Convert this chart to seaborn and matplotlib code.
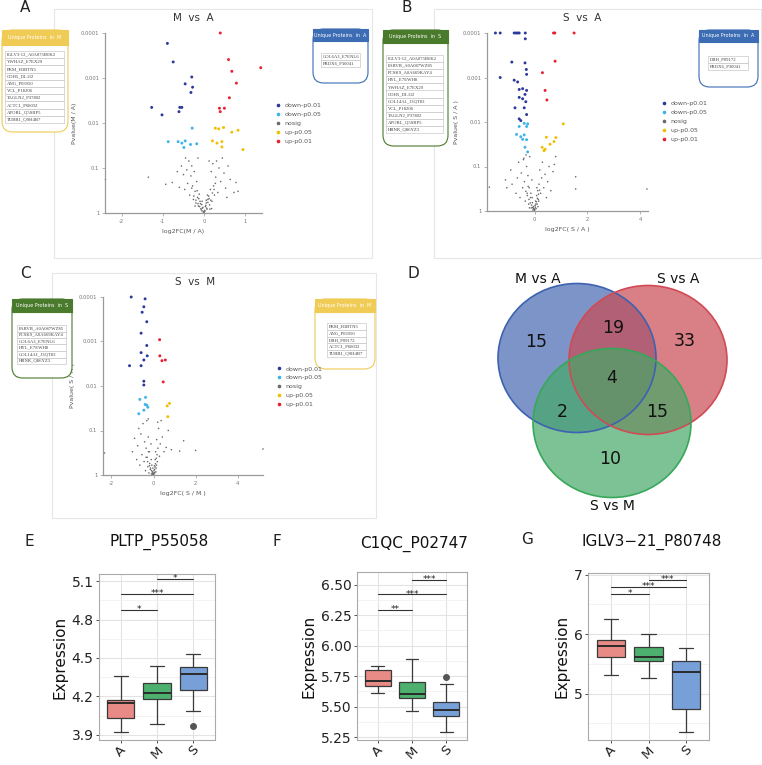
import numpy as np
import pandas as pd
import matplotlib
matplotlib.use('Agg')
import matplotlib.pyplot as plt
import seaborn as sns
from matplotlib.patches import Rectangle, FancyBboxPatch, Ellipse
from matplotlib.lines import Line2D
from matplotlib.ticker import FixedLocator, NullLocator, MultipleLocator

# ---- volcano data (log2FC, p-value) ----
a_sig_fc = [-0.89, -0.75, -0.30, -0.46, -0.28, -0.32, -1.27, -0.59, -0.54, -0.61, -1.02,
            -0.29, -0.87, -0.63, -0.54, -0.46, -0.49, -0.33, -0.18,
            0.39, 0.59, 0.67, 1.37, 0.78, 0.61, 0.37, 0.49, 0.39,
            0.27, 0.35, 0.47, 0.67, 0.82, 0.20, 0.31, 0.43, 0.43, 0.94]
a_sig_p = [1.7e-4, 4.4e-4, 9.5e-4, 1.35e-3, 1.6e-3, 2.1e-3, 4.5e-3, 4.5e-3, 4.5e-3, 5.6e-3, 6.6e-3,
           0.013, 0.026, 0.026, 0.028, 0.025, 0.035, 0.030, 0.029,
           1.0e-4, 3.9e-4, 7.1e-4, 5.9e-4, 1.3e-3, 2.75e-3, 4.7e-3, 4.7e-3, 5.6e-3,
           0.013, 0.0135, 0.0126, 0.016, 0.0145, 0.025, 0.028, 0.026, 0.034, 0.039]
a_ns_fc = [-2.39, -1.35, -0.93, -0.77, -0.55, -0.5, -0.47, -0.45, -0.42, -0.4, -0.37, -0.35, -0.32, -0.3,
           -0.28, -0.26, -0.24, -0.22, -0.2, -0.18, -0.16, -0.14, -0.12, -0.1, -0.08, -0.06, -0.05, -0.03,
           -0.02, 0.0, 0.01, 0.03, 0.05, 0.07, 0.09, 0.11, 0.13, 0.15, 0.17, 0.19, 0.21, 0.23, 0.25, 0.28,
           0.3, 0.33, 0.36, 0.4, 0.44, 0.48, 0.52, 0.58, 0.63, 0.72, 0.77, 0.82, -0.6, -0.65, 0.55, -0.15, 0.12,
           -0.25, -0.2, -0.15, -0.11, -0.07, -0.04, -0.01, 0.02, 0.04, 0.06, 0.09, 0.12, 0.16, 0.2, 0.24,
           -0.3, -0.22, -0.13, 0.14, 0.27, -0.09, 0.08, -0.17, 0.18, -0.05, 0.05]
a_ns_p = [0.18, 0.16, 0.23, 0.21, 0.09, 0.14, 0.3, 0.06, 0.11, 0.22, 0.07, 0.4, 0.15, 0.09,
          0.25, 0.5, 0.12, 0.33, 0.6, 0.2, 0.45, 0.7, 0.38, 0.55, 0.8, 0.65, 0.9, 0.75,
          0.95, 0.98, 0.88, 0.72, 0.6, 0.82, 0.5, 0.42, 0.66, 0.3, 0.12, 0.55, 0.08, 0.25, 0.4, 0.16,
          0.07, 0.35, 0.1, 0.2, 0.06, 0.13, 0.28, 0.09, 0.18, 0.35, 0.21, 0.33, 0.27, 0.12, 0.45, 0.06, 0.07,
          0.42, 0.52, 0.62, 0.72, 0.85, 0.78, 0.93, 0.9, 0.68, 0.78, 0.58, 0.48, 0.52, 0.36, 0.3,
          0.28, 0.7, 0.48, 0.82, 0.22, 0.62, 0.4, 0.32, 0.8, 0.55, 0.52]

b_sig_fc = [-1.48, -1.30, -0.77, -0.70, -0.64, -0.58, -0.35, -0.35, -0.86, -0.36, -0.31, -0.30, -1.30, -0.77,
            -0.64, -0.58, -0.45, -0.30, -0.36, -0.58, -0.45, -0.33, -0.74, -0.39, -0.30, -0.58, -0.52,
            -0.39, -0.26, -0.58, -0.30, -0.68, -0.52, -0.39, -0.30, -0.36, -0.26, -0.45,
            0.72, 0.77, 1.50, 0.78, 0.30, 0.40, 0.47,
            1.09, 0.45, 0.81, 0.74, 0.59, 0.29, 0.36, 0.40]
b_sig_p = [1e-4, 1e-4, 1e-4, 1e-4, 1e-4, 1e-4, 1e-4, 1.35e-4, 4.5e-4, 4.7e-4, 6.6e-4, 8.5e-4, 1.0e-3, 1.15e-3,
           1.26e-3, 1.86e-3, 1.78e-3, 1.95e-3, 2.4e-3, 2.8e-3, 3.0e-3, 3.5e-3, 4.8e-3, 4.8e-3, 6.8e-3, 8.5e-3, 9.3e-3,
           0.0107, 0.011, 0.0126, 0.0126, 0.019, 0.0214, 0.0195, 0.025, 0.037, 0.047, 0.0245,
           1e-4, 1e-4, 1e-4, 4.3e-4, 7.8e-4, 1.95e-3, 3.2e-3,
           0.011, 0.022, 0.0224, 0.0275, 0.0316, 0.037, 0.044, 0.041]
b_ns_fc = [1.56, 1.56, 4.26, -1.71, -1.1, -1.05, -0.85, -0.9, -0.7, -0.65, -0.6, -0.55, -0.5, -0.45, -0.42,
           -0.38, -0.35, -0.3, -0.28, -0.25, -0.22, -0.2, -0.18, -0.15, -0.12, -0.1, -0.08, -0.06, -0.04, -0.02,
           0.0, 0.02, 0.04, 0.06, 0.08, 0.1, 0.12, 0.14, 0.17, 0.2, 0.23, 0.27, 0.3, 0.35, 0.4, 0.45, 0.5, 0.55,
           0.62, 0.7, 0.75, 0.8, -0.4, -0.32,
           -0.27, -0.21, -0.16, -0.11, -0.07, -0.03, -0.01, 0.01, 0.03, 0.05, 0.07, 0.11, 0.15, 0.19,
           -0.33, -0.24, -0.14, 0.13, -0.09, 0.09, -0.19, 0.16]
b_ns_p = [0.17, 0.32, 0.32, 0.29, 0.2, 0.3, 0.25, 0.12, 0.4, 0.18, 0.08, 0.5, 0.14, 0.3, 0.07,
          0.22, 0.6, 0.1, 0.4, 0.16, 0.7, 0.3, 0.06, 0.5, 0.85, 0.2, 0.65, 0.95, 0.8, 0.9,
          0.98, 0.75, 0.6, 0.88, 0.45, 0.7, 0.35, 0.55, 0.25, 0.12, 0.4, 0.18, 0.08, 0.3, 0.15, 0.5, 0.22, 0.1,
          0.35, 0.13, 0.09, 0.06, 0.065, 0.055,
          0.45, 0.55, 0.66, 0.74, 0.84, 0.88, 0.94, 0.92, 0.82, 0.7, 0.62, 0.52, 0.42, 0.34,
          0.36, 0.28, 0.4, 0.8, 0.5, 0.3, 0.85, 0.6]

c_sig_fc = [-1.06, -0.40, -0.46, -0.54, -0.32, -0.59, -0.32, -0.59, -0.46, -1.14, -0.59, -0.30, -0.46, -0.46,
            -0.38, -0.65, -0.40, -0.32, -0.46, -0.70, -0.27,
            0.29, 0.30, 0.40, 0.56, 0.46,
            0.76, 0.65, 0.68]
c_sig_p = [1e-4, 1.1e-4, 1.66e-4, 2.2e-4, 3.6e-4, 6.5e-4, 1.23e-3, 1.78e-3, 2.6e-3, 3.5e-3, 3.5e-3, 2.1e-3, 7.8e-3, 9.5e-3,
           0.018, 0.02, 0.026, 0.027, 0.035, 0.042, 0.03,
           9.1e-4, 2.1e-3, 2.7e-3, 2.6e-3, 8.1e-3,
           0.0245, 0.028, 0.049]
c_ns_fc = [2.0, 5.2, 1.43, 1.24, -2.33, -1.0, -0.9, -0.8, -0.75, -0.7, -0.65, -0.6, -0.55, -0.5, -0.45,
           -0.42, -0.38, -0.35, -0.32, -0.3, -0.27, -0.25, -0.22, -0.2, -0.18, -0.15, -0.12, -0.1, -0.08, -0.05,
           -0.03, 0.0, 0.02, 0.04, 0.06, 0.08, 0.1, 0.12, 0.15, 0.18, 0.21, 0.24, 0.28, 0.32, 0.36, 0.42, 0.5,
           0.6, 0.7, 0.85, -0.25, 0.2,
           -0.28, -0.19, -0.14, -0.09, -0.06, -0.02, 0.01, 0.03, 0.05, 0.07, 0.09, 0.13, 0.17, -0.35, -0.24,
           0.11, -0.11, 0.14, -0.04, 0.0]
c_ns_p = [0.28, 0.26, 0.17, 0.29, 0.32, 0.3, 0.15, 0.45, 0.22, 0.09, 0.6, 0.12, 0.35, 0.07, 0.5,
          0.18, 0.8, 0.25, 0.06, 0.4, 0.65, 0.14, 0.9, 0.3, 0.55, 0.75, 0.2, 0.95, 0.6, 0.85,
          0.7, 0.98, 0.8, 0.62, 0.9, 0.45, 0.3, 0.7, 0.16, 0.5, 0.25, 0.09, 0.38, 0.2, 0.06, 0.14, 0.3,
          0.24, 0.1, 0.27, 0.055, 0.065,
          0.5, 0.62, 0.7, 0.8, 0.9, 0.93, 0.95, 0.88, 0.75, 0.66, 0.56, 0.42, 0.35, 0.4, 0.3,
          0.85, 0.45, 0.6, 0.98, 0.92]

# ---- unique protein lists ----
uniq_a_m = ['IGLV3-12_A0A075B6K2', 'YWHAZ_E7EX29', 'PKM_H3BTN5', 'CDH5_DL1I2', 'ANG_P03950',
            'VCL_P18206', 'TAGLN2_P37802', 'ACTC1_P68032', 'APOBL_Q5SRP5', 'TUBB1_Q9H4B7']
uniq_a_a = ['COL6A3_E7ENL6', 'PRDX6_P30041']
uniq_b_s = ['IGLV3-12_A0A075B6K2', 'PARVB_A0A087WZ85', 'PCSK9_A0A669KAY4', 'HYL_E7EWH8', 'YWHAZ_E7EX29',
            'CDH5_DL1I2', 'COL14A1_J3QT83', 'VCL_P18206', 'TAGLN2_P37802', 'APOBL_Q5SRP5', 'HRNR_Q86YZ3']
uniq_b_a = ['DBH_P09172', 'PRDX6_P30041']
uniq_c_s = ['PARVB_A0A087WZ85', 'PCSK9_A0A669KAY4', 'COL6A3_E7ENL6', 'HYL_E7EWH8', 'COL14A1_J3QT83', 'HRNR_Q86YZ3']
uniq_c_m = ['PKM_H3BTN5', 'ANG_P03950', 'DBH_P09172', 'ACTC1_P68032', 'TUBB1_Q9H4B7']

# ---- venn ----
venn_sets = ['M vs A', 'S vs A', 'S vs M']
venn_counts = [15, 19, 33, 4, 2, 15, 10]

# ---- boxplot samples ----
groups = ['A', 'M', 'S']
e_vals = {'A': [3.923, 3.98, 4.028, 4.09, 4.15, 4.16, 4.169, 4.25, 4.362],
          'M': [3.983, 4.12, 4.176, 4.2, 4.225, 4.27, 4.308, 4.38, 4.434],
          'S': [3.97, 4.09, 4.251, 4.3, 4.375, 4.41, 4.432, 4.48, 4.529]}
f_vals = {'A': [5.609, 5.64, 5.668, 5.69, 5.709, 5.75, 5.799, 5.82, 5.834],
          'M': [5.467, 5.53, 5.571, 5.59, 5.603, 5.65, 5.701, 5.80, 5.889],
          'S': [5.291, 5.38, 5.427, 5.45, 5.473, 5.50, 5.538, 5.69, 5.745]}
g_vals = {'A': [5.306, 5.5, 5.622, 5.7, 5.8, 5.85, 5.906, 6.05, 6.256],
          'M': [5.267, 5.45, 5.544, 5.58, 5.611, 5.7, 5.783, 5.9, 6.0],
          'S': [4.35, 4.6, 4.739, 5.1, 5.356, 5.45, 5.556, 5.65, 5.767]}
e_sig = [('A', 'M', 4.877, '*'), ('A', 'S', 5.0, '***'), ('M', 'S', 5.117, '*')]
f_sig = [('A', 'M', 6.296, '**'), ('A', 'S', 6.421, '***'), ('M', 'S', 6.538, '***')]
g_sig = [('A', 'M', 6.683, '*'), ('A', 'S', 6.80, '***'), ('M', 'S', 6.92, '***')]

sns.set_theme(style='white')
plt.rcParams['font.family'] = ['DejaVu Sans']

W, H = 762, 765
fig = plt.figure(figsize=(W / 100, H / 100), dpi=100)


def fx(x):
    return x / W


def fy(y):
    return 1 - y / H


def px_axes(x0, y0, x1, y1):
    return fig.add_axes([x0 / W, 1 - y1 / H, (x1 - x0) / W, (y1 - y0) / H])


grp_order = ['down-p0.01', 'down-p0.05', 'nosig', 'up-p0.05', 'up-p0.01']
grp_colors = {'down-p0.01': '#2b3a9a', 'down-p0.05': '#3fb4e6', 'nosig': '#6a6a6a',
              'up-p0.05': '#f0c000', 'up-p0.01': '#e8202f'}
grp_sizes = {'down-p0.01': 4.5, 'down-p0.05': 4.5, 'nosig': 1.3, 'up-p0.05': 4.5, 'up-p0.01': 4.5}


def classify(fc, p):
    side = 'up' if fc > 0 else 'down'
    if p < 0.01:
        return side + '-p0.01'
    if p < 0.05:
        return side + '-p0.05'
    return 'nosig'


def volcano(box, fc, p, xlim, xticks, xlab, ylab, leg_xy):
    ax = px_axes(*box)
    df = pd.DataFrame({'fc': fc, 'p': p})
    df['group'] = [classify(a, b) for a, b in zip(df.fc, df.p)]
    sns.scatterplot(data=df, x='fc', y='p', hue='group', hue_order=grp_order, palette=grp_colors,
                    size='group', sizes=grp_sizes, linewidth=0, legend=False, ax=ax, clip_on=False)
    ax.set_yscale('log')
    ax.set_ylim(1, 1e-4)
    ax.set_xlim(*xlim)
    ax.yaxis.set_major_locator(FixedLocator([1e-4, 1e-3, 1e-2, 0.1, 1]))
    ax.set_yticklabels(['0.0001', '0.001', '0.01', '0.1', '1'])
    ax.yaxis.set_minor_locator(NullLocator())
    ax.set_xticks(xticks)
    ax.set_xticklabels([str(t) for t in xticks])
    for s in ['top', 'right']:
        ax.spines[s].set_visible(False)
    for s in ['left', 'bottom']:
        ax.spines[s].set_color('#999999')
        ax.spines[s].set_linewidth(0.9)
    ax.tick_params(labelsize=3.8, labelcolor='#777777', length=2, width=0.5, color='#999999',
                   bottom=True, left=True, pad=2)
    ax.set_xlabel(xlab, fontsize=4.5, color='#555555', labelpad=4)
    ax.set_ylabel(ylab, fontsize=4.5, color='#555555', labelpad=3)
    handles = [Line2D([], [], marker='o', ls='', color=grp_colors[g], markersize=1.6) for g in grp_order]
    fig.legend(handles, grp_order, loc='upper left', bbox_to_anchor=(fx(leg_xy[0]), fy(leg_xy[1])),
               fontsize=4.5, frameon=False, handlelength=0.6, handletextpad=0.7, labelspacing=0.55,
               borderpad=0, labelcolor='#555555')
    return ax


def unique_box(x0, y0, x1, y1, hdr, color, title, items, tx0, tx1, ty0, rh):
    fig.patches.append(FancyBboxPatch((fx(x0), fy(y1)), (x1 - x0) / W, (y1 - y0) / H,
                                      boxstyle='round,pad=0,rounding_size=0.014', transform=fig.transFigure,
                                      facecolor='white', edgecolor=color, lw=0.8))
    fig.patches.append(Rectangle((fx(x0), fy(y0 + hdr)), (x1 - x0) / W, hdr / H, transform=fig.transFigure,
                                 facecolor=color, edgecolor=color, lw=0.8))
    fig.text(fx((x0 + x1) / 2), fy(y0 + hdr / 2), title, color='white', fontsize=3.5, ha='center', va='center')
    for i, item in enumerate(items):
        top = ty0 + i * rh
        fig.patches.append(Rectangle((fx(tx0), fy(top + rh)), (tx1 - tx0) / W, rh / H, transform=fig.transFigure,
                                     facecolor='white', edgecolor='#bbbbbb', lw=0.4))
        fig.text(fx(tx0 + 1.5), fy(top + rh / 2), item, fontsize=3.4, family='Liberation Serif',
                 color='#444444', ha='left', va='center')


def frame(x0, y0, x1, y1):
    fig.patches.append(Rectangle((fx(x0), fy(y1)), (x1 - x0) / W, (y1 - y0) / H, transform=fig.transFigure,
                                 fill=False, edgecolor='#e6e6e6', lw=0.8))


# frames
frame(54, 9, 372, 258)
frame(434, 9, 761, 258)
frame(52, 273, 376, 518)

# panel A
volcano((105, 33, 262, 213), a_sig_fc + a_ns_fc, a_sig_p + a_ns_p, (-2.4, 1.4), [-2, -1, 0, 1],
        'log2FC(M / A)', 'Pvalue(M / A)', (273, 100))
fig.text(fx(193), fy(18), 'M  vs  A', fontsize=7.5, color='#333333', ha='center', va='center')
unique_box(2, 30, 68, 132, 15, '#f0cb55', 'Unique Proteins  in  M', uniq_a_m, 5, 64, 51, 7.2)
unique_box(313, 29, 368, 83, 12, '#3c6cb4', 'Unique Proteins  in  A', uniq_a_a, 321, 360, 53, 7.2)

# panel B
volcano((487, 33, 648, 211), b_sig_fc + b_ns_fc, b_sig_p + b_ns_p, (-1.8, 4.3), [0, 2, 4],
        'log2FC( S / A )', 'Pvalue( S / A )', (659, 98))
fig.text(fx(582), fy(18), 'S  vs  A', fontsize=7.5, color='#333333', ha='center', va='center')
unique_box(383, 30, 448, 146, 13, '#4a7a2c', 'Unique Proteins  in  S', uniq_b_s, 386, 443, 55, 7.1)
unique_box(699, 30, 758, 87, 12, '#3c6cb4', 'Unique Proteins  in  A', uniq_b_a, 708, 748, 56, 7.2)

# panel C
volcano((103, 297, 263, 475), c_sig_fc + c_ns_fc, c_sig_p + c_ns_p, (-2.4, 5.2), [-2, 0, 2, 4],
        'log2FC( S / M )', 'Pvalue( S / M )', (274, 363))
fig.text(fx(195), fy(282), 'S  vs  M', fontsize=7.5, color='#333333', ha='center', va='center')
unique_box(12, 299, 72, 378, 13, '#4a7a2c', 'Unique Proteins  in  S', uniq_c_s, 17, 66, 325, 6.5)
unique_box(315, 299, 375, 369, 13, '#f0cb55', 'Unique Proteins  in  M', uniq_c_m, 327, 366, 323, 6.8)

# panel D venn
ax_d = px_axes(380, 258, 762, 518)
ax_d.set_xlim(380, 762)
ax_d.set_ylim(518, 258)
ax_d.axis('off')
circle_geo = [(577, 358, '#4467b0', '#3d62b0'), (648, 360, '#c84a52', '#d14a55'), (612, 423, '#46a868', '#37a85a')]
for cx, cy, fc_, ec in circle_geo:
    ax_d.add_patch(Ellipse((cx, cy), 158, 149, facecolor=fc_, alpha=0.7, edgecolor='none'))
for cx, cy, fc_, ec in circle_geo:
    ax_d.add_patch(Ellipse((cx, cy), 158, 149, facecolor='none', edgecolor=ec, lw=1.2))
set_pos = [(538, 279), (678, 279), (612, 506)]
for name, (x, y) in zip(venn_sets, set_pos):
    ax_d.text(x, y, name, fontsize=10, ha='center', va='center', color='#111111')
count_pos = [(536, 342), (613, 328), (685, 341), (612, 378), (562, 412), (657, 412), (610, 459)]
for n, (x, y) in zip(venn_counts, count_pos):
    ax_d.text(x, y, str(n), fontsize=12.5, ha='center', va='center', color='#111111')

# boxplots
box_colors = {'A': '#e88a86', 'M': '#4db06f', 'S': '#78a0d8'}


def boxpanel(box, vals, ylim, yticks, ylabels, minor, sigs):
    ax = px_axes(*box)
    df = pd.DataFrame({'group': [g for g in groups for _ in vals[g]],
                       'value': [v for g in groups for v in vals[g]]})
    sns.boxplot(data=df, x='group', y='value', hue='group', order=groups, palette=box_colors, saturation=1,
                width=0.75, linewidth=0.9, linecolor='#3a3a3a', legend=False, ax=ax,
                flierprops=dict(marker='o', markerfacecolor='#555555', markeredgecolor='#555555', markersize=4),
                medianprops=dict(color='#2a2a2a', linewidth=1.4))
    ax.set_xlim(-0.6, 2.6)
    ax.set_ylim(*ylim)
    ax.set_yticks(yticks)
    ax.set_yticklabels(ylabels)
    ax.yaxis.set_minor_locator(MultipleLocator(minor))
    ax.set_axisbelow(True)
    ax.grid(which='major', color='#e3e3e3', lw=0.8)
    ax.grid(which='minor', axis='y', color='#f1f1f1', lw=0.6)
    for s in ax.spines.values():
        s.set_color('#aaaaaa')
        s.set_linewidth(0.8)
    ax.tick_params(which='major', bottom=True, left=True, length=2.5, width=0.6, color='#333333',
                   labelsize=10, labelcolor='#222222', pad=1.5)
    ax.tick_params(axis='x', which='major', labelsize=9.5, pad=0)
    ax.tick_params(which='minor', length=0)
    for lab in ax.get_xticklabels():
        lab.set_rotation(45)
    ax.set_xlabel('')
    ax.set_ylabel('Expression', fontsize=11, color='#111111', labelpad=3)
    for g1, g2, y, s in sigs:
        i1, i2 = groups.index(g1), groups.index(g2)
        ax.plot([i1, i2], [y, y], color='#333333', lw=0.8)
        ax.text((i1 + i2) / 2, y, s, fontsize=6.5, ha='center', va='center', color='#222222')
    return ax


boxpanel((99, 574, 215, 740), e_vals, (3.86, 5.155), [3.9, 4.2, 4.5, 4.8, 5.1],
         ['3.9', '4.2', '4.5', '4.8', '5.1'], 0.15, e_sig)
boxpanel((357, 572, 467, 740), f_vals, (5.228, 6.603), [5.25, 5.5, 5.75, 6.0, 6.25, 6.5],
         ['5.25', '5.50', '5.75', '6.00', '6.25', '6.50'], 0.125, f_sig)
boxpanel((588, 573, 709, 740), g_vals, (4.22, 7.03), [5, 6, 7], ['5', '6', '7'], 0.5, g_sig)

fig.text(fx(159), fy(542), 'PLTP_P55058', fontsize=11, ha='center', va='center', color='#111111')
fig.text(fx(414), fy(544), 'C1QC_P02747', fontsize=11, ha='center', va='center', color='#111111')
fig.text(fx(652), fy(542), 'IGLV3\u221221_P80748', fontsize=11, ha='center', va='center', color='#111111')

# panel letters
for letter, x, y in [('A', 25, 7), ('B', 407, 7), ('C', 25, 273), ('D', 413, 273),
                     ('E', 29, 542), ('F', 277, 542), ('G', 527, 540)]:
    fig.text(fx(x), fy(y), letter, fontsize=11, ha='center', va='center', color='#222222')

fig.savefig('out.png', dpi=100)
